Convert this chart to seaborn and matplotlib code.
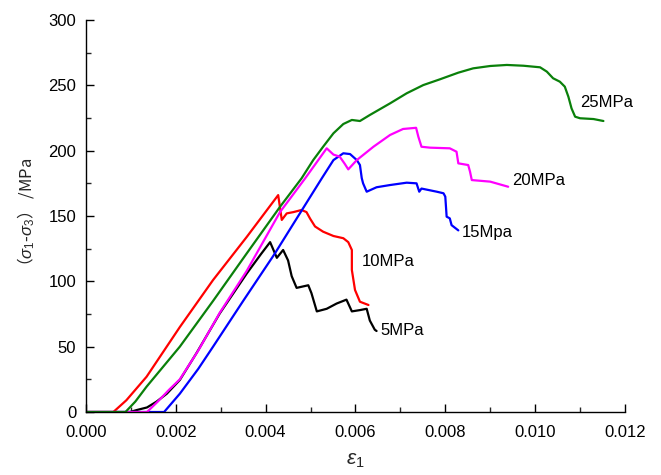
import matplotlib
matplotlib.use("Agg")
import matplotlib.pyplot as plt
from matplotlib.ticker import MultipleLocator, FormatStrFormatter
import seaborn as sns
import pandas as pd

# ---- data ----
x_5 = [0, 0.00098, 0.00113, 0.00136, 0.00157, 0.00180, 0.00209, 0.00246, 0.00298, 0.00358,
       0.00390, 0.00410, 0.00425, 0.00439, 0.00450, 0.00458, 0.00469, 0.00495, 0.00502, 0.00514,
       0.00536, 0.00558, 0.00580, 0.00592, 0.00610, 0.00625, 0.00632, 0.00643, 0.00647]
y_5 = [0, 0, 1.5, 3.5, 7.9, 14, 24.5, 45, 75.5, 106,
       121, 130, 118, 124, 116, 104, 95, 97, 91, 77,
       79, 83, 86, 77, 78, 79, 70, 63, 62]

x_10 = [0, 0.00061, 0.00090, 0.00135, 0.00209, 0.00283, 0.00358, 0.00428, 0.00436, 0.00447,
        0.00462, 0.00480, 0.00491, 0.00499, 0.00510, 0.00528, 0.00551, 0.00573, 0.00584, 0.00592,
        0.00592, 0.00599, 0.00610, 0.00629]
y_10 = [0, 0, 9, 27, 65, 101, 134, 166, 147, 152,
        153, 154.6, 153, 148, 142, 138, 134.7, 133, 130, 124,
        108.7, 93.4, 84.4, 81.9]

x_15 = [0, 0.00174, 0.00209, 0.00250, 0.00283, 0.00350, 0.00420, 0.00469, 0.00525, 0.00551,
        0.00573, 0.00588, 0.00603, 0.00610, 0.00614, 0.00617, 0.00625, 0.00647, 0.00677, 0.00714,
        0.00736, 0.00742, 0.00747, 0.00781, 0.00796, 0.00800, 0.00803, 0.00810, 0.00814, 0.00829]
y_15 = [0, 0, 14, 33, 50, 85, 121, 148, 178.8, 192.8,
        198, 197.4, 192.8, 189, 179, 175, 168.6, 172, 173.7, 175.5,
        175, 168.6, 171, 168.6, 167.4, 164.8, 149.5, 148.2, 143, 139]

x_20 = [0, 0.00136, 0.00160, 0.00185, 0.00209, 0.00250, 0.00298, 0.00358, 0.00432, 0.00488,
        0.00536, 0.00551, 0.00565, 0.00576, 0.00584, 0.00603, 0.00640, 0.00677, 0.00706, 0.00735,
        0.00740, 0.00747, 0.00766, 0.00810, 0.00825, 0.00829, 0.00851, 0.00855, 0.00859, 0.00900,
        0.00940]
y_20 = [0, 0, 8, 17, 25, 47, 76, 108, 153, 178.8,
        201.8, 197, 195.4, 190, 185.7, 192.8, 203, 212, 216.6, 217.5,
        210.7, 203, 202.3, 201.8, 199.2, 190.3, 189, 184, 177.5, 176.3,
        172.4]

x_25 = [0, 0.00088, 0.00110, 0.00135, 0.00209, 0.00283, 0.00358, 0.00432, 0.00480, 0.00506,
        0.00528, 0.00551, 0.00573, 0.00592, 0.00610, 0.00632, 0.00677, 0.00714, 0.00751, 0.00788,
        0.00829, 0.00862, 0.00900, 0.00937, 0.00974, 0.01011, 0.01026, 0.01040, 0.01055, 0.01066,
        0.01074, 0.01081, 0.01089, 0.01100, 0.01130, 0.01152]
y_25 = [0, 0, 8, 19.4, 50, 85, 121.4, 157, 178.8, 192.8,
        203, 213.3, 220.4, 223.5, 222.7, 227.3, 236.2, 243.9, 250.2, 254.6,
        259.7, 263, 264.8, 265.6, 265, 263.8, 260.5, 255.4, 252.8, 249,
        241.3, 232.4, 226, 224.8, 224.2, 222.7]

series_names = ["5MPa", "10MPa", "15Mpa", "20MPa", "25MPa"]
series_x = [x_5, x_10, x_15, x_20, x_25]
series_y = [y_5, y_10, y_15, y_20, y_25]
series_colors = ["#000000", "#ff0000", "#0000ff", "#ff00ff", "#0a800a"]
label_x = [0.00655, 0.00614, 0.00836, 0.00948, 0.01100]
label_y = [62, 115, 137, 177.5, 236.7]

x_ticks = [0.000, 0.002, 0.004, 0.006, 0.008, 0.010, 0.012]
y_ticks = [0, 50, 100, 150, 200, 250, 300]

# ---- styling ----
sns.set_style("ticks")
plt.rcParams["font.family"] = ["Liberation Sans", "DejaVu Sans"]
plt.rcParams["mathtext.fontset"] = "custom"
plt.rcParams["mathtext.it"] = "Liberation Sans:italic"
plt.rcParams["mathtext.rm"] = "Liberation Sans"

fig = plt.figure(figsize=(6.61, 4.75), dpi=100)
ax = fig.add_axes([0.130, 0.1326, 0.8155, 0.8253])

rows = []
for name, xs, ys in zip(series_names, series_x, series_y):
    for i, (xv, yv) in enumerate(zip(xs, ys)):
        rows.append({"strain": xv, "stress": yv, "series": name, "order": i})
df = pd.DataFrame(rows)

sns.lineplot(data=df, x="strain", y="stress", hue="series", units="series",
             estimator=None, sort=False, palette=dict(zip(series_names, series_colors)),
             linewidth=1.6, legend=False, ax=ax)

for name, lx, ly in zip(series_names, label_x, label_y):
    ax.text(lx, ly, name, fontsize=12, ha="left", va="center", color="black")

ax.set_xlim(0, 0.012)
ax.set_ylim(0, 300)
ax.set_xticks(x_ticks)
ax.set_yticks(y_ticks)
ax.xaxis.set_major_formatter(FormatStrFormatter("%.3f"))
ax.xaxis.set_minor_locator(MultipleLocator(0.001))
ax.yaxis.set_minor_locator(MultipleLocator(25))
ax.tick_params(which="major", direction="in", length=6, width=1.0, labelsize=12,
               colors="black")
ax.tick_params(axis="x", which="major", pad=9)
ax.tick_params(axis="y", which="major", pad=7)
ax.tick_params(which="minor", direction="in", length=3.5, width=1.0)
for s in ["top", "right"]:
    ax.spines[s].set_visible(False)
for s in ["left", "bottom"]:
    ax.spines[s].set_linewidth(1.0)
    ax.spines[s].set_color("black")

ax.set_xlabel(r"$\varepsilon_1$", fontsize=15, labelpad=8)
ax.set_ylabel("（$\\sigma_1$-$\\sigma_3$） /MPa", fontsize=12, labelpad=8,
              family=["Noto Sans CJK SC"])

fig.savefig("out.png", dpi=100)
